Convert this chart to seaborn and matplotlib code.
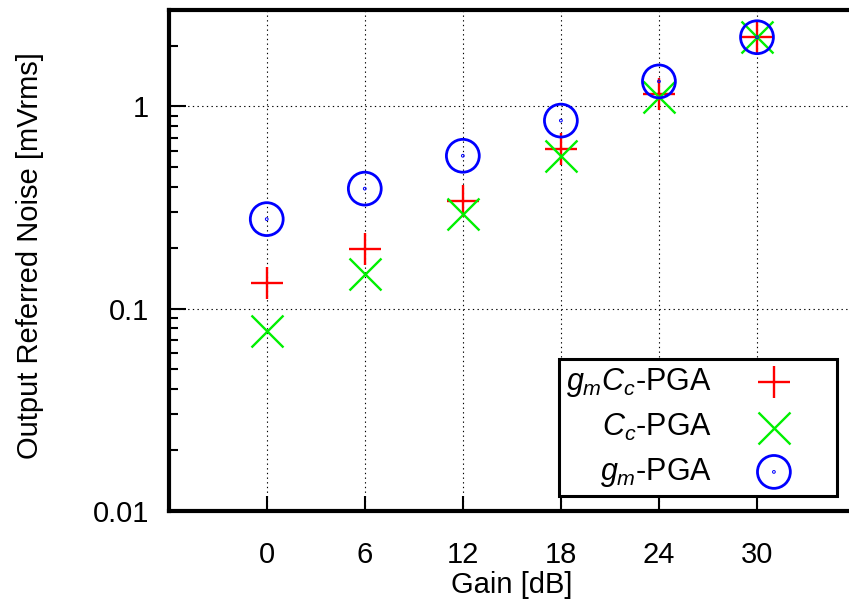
import numpy as np
import pandas as pd
import matplotlib
matplotlib.use("Agg")
import matplotlib.pyplot as plt
from matplotlib.path import Path
from matplotlib.ticker import LogLocator, NullFormatter, FixedLocator
import seaborn as sns

# ---- data ----
gain_db = [0, 6, 12, 18, 24, 30]
gmcc_pga = [0.134, 0.197, 0.339, 0.614, 1.15, 2.20]
cc_pga = [0.0774, 0.148, 0.292, 0.571, 1.11, 2.20]
gm_pga = [0.277, 0.392, 0.570, 0.851, 1.33, 2.20]
series_labels = [r"$g_mC_c$-PGA", r"$C_c$-PGA", r"$g_m$-PGA"]
x_ticks = [0, 6, 12, 18, 24, 30]
y_ticks = [0.01, 0.1, 1]
y_ticklabels = ["0.01", "0.1", "1"]

sns.set_theme(style="white")
plt.rcParams["font.family"] = ["Liberation Sans", "DejaVu Sans"]
plt.rcParams["mathtext.fontset"] = "custom"
plt.rcParams["mathtext.rm"] = "Liberation Sans"
plt.rcParams["mathtext.it"] = "Liberation Sans:italic"
for k in ["text.color", "axes.labelcolor", "xtick.color", "ytick.color"]:
    plt.rcParams[k] = "black"

FS = 21
LFS = 22

fig = plt.figure(figsize=(8.49, 6.06), dpi=100)
ax = fig.add_axes([0.1987, 0.1573, 0.8084, 0.8262])

df = pd.DataFrame({"gain": gain_db, "a": gmcc_pga, "b": cc_pga, "c": gm_pga})

circ_dot = Path.make_compound_path(Path.unit_circle(), Path.circle((0, 0), radius=0.03))

sns.scatterplot(data=df, x="gain", y="a", marker="+", color="#ff0000", s=530,
                linewidth=1.7, ax=ax, label=series_labels[0], zorder=3)
sns.scatterplot(data=df, x="gain", y="b", marker="x", color="#00f000", s=530,
                linewidth=1.7, ax=ax, label=series_labels[1], zorder=3)
sns.scatterplot(data=df, x="gain", y="c", marker=circ_dot, color="#0000ff",
                facecolor="none", edgecolor="#0000ff", s=560,
                linewidth=2.0, ax=ax, label=series_labels[2], zorder=3)

ax.set_yscale("log")
ax.set_xlim(-6, 36)
ax.set_ylim(0.01, 3)

ax.xaxis.set_major_locator(FixedLocator(x_ticks))
ax.set_xticks(x_ticks)
ax.set_xticklabels([str(v) for v in x_ticks])
ax.set_yticks(y_ticks)
ax.set_yticklabels(y_ticklabels)
ax.yaxis.set_minor_locator(LogLocator(base=10, subs=np.arange(2, 10), numticks=20))
ax.yaxis.set_minor_formatter(NullFormatter())

ax.tick_params(axis="x", which="major", direction="in", length=11, width=1.5,
               color="black", labelcolor="black", labelsize=FS, pad=22,
               bottom=True, top=False)
ax.tick_params(axis="y", which="major", direction="in", length=12, width=1.5,
               color="black", labelcolor="black", labelsize=FS, pad=14,
               left=True, right=False)
ax.tick_params(axis="y", which="minor", direction="in", length=6.5, width=1.5,
               color="black", left=True, right=False)

ax.grid(True, which="major", linestyle=(0, (1.2, 3)), color="black", linewidth=0.8)
ax.set_axisbelow(True)

for sp in ax.spines.values():
    sp.set_visible(True)
    sp.set_color("black")
    sp.set_linewidth(3)

ax.set_xlabel("Gain [dB]", fontsize=FS, labelpad=1, color="black")
ax.set_ylabel("Output Referred Noise [mVrms]", fontsize=FS, color="black")
ax.yaxis.set_label_coords(-0.182, 0.509)

leg = ax.legend(loc="lower right", bbox_to_anchor=(0.9733, 0.030), borderaxespad=0,
                markerfirst=False, fontsize=LFS, frameon=True, fancybox=False,
                edgecolor="black", framealpha=1, borderpad=0.22, labelspacing=0.43,
                handlelength=3.67, handletextpad=0.2, scatterpoints=1)
leg.get_frame().set_linewidth(2.2)
for t in leg.get_texts():
    t.set_color("black")

fig.savefig("out.png", dpi=100)
